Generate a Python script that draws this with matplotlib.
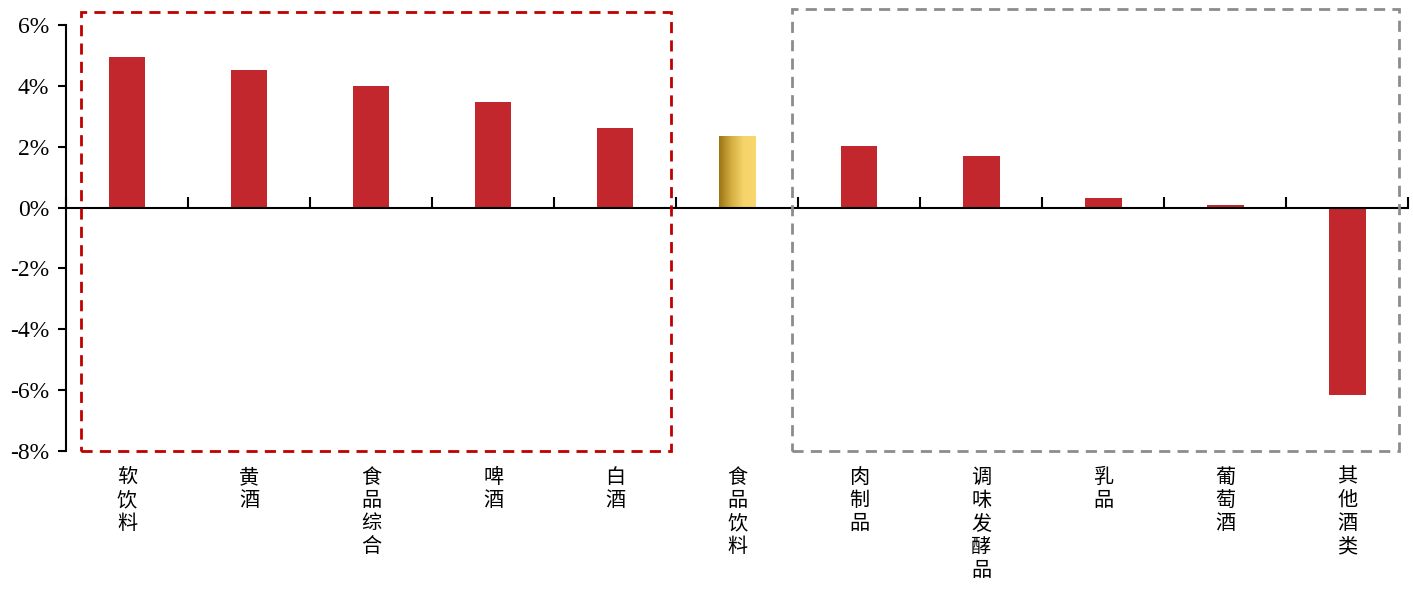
import numpy as np
import matplotlib.pyplot as plt
from matplotlib.patches import Rectangle
from matplotlib.colors import LinearSegmentedColormap
from matplotlib.ticker import FuncFormatter

plt.rcParams['font.family'] = ['Liberation Serif', 'Noto Sans CJK SC', 'DejaVu Sans']

# Categories and growth values (%)
categories = ['软饮料', '黄酒', '食品综合', '啤酒', '白酒', '食品饮料',
              '肉制品', '调味发酵品', '乳品', '葡萄酒', '其他酒类']
values = [4.95, 4.52, 3.98, 3.46, 2.60, 2.34, 2.01, 1.68, 0.33, 0.07, -6.17]
highlight = '食品饮料'

red = '#c1272d'
bar_w = 0.3

fig = plt.figure(figsize=(14.13, 5.9), dpi=100)
ax = fig.add_axes([0.0467, 0.2356, 0.95, 0.722])

x = np.arange(len(categories))
gold = LinearSegmentedColormap.from_list('gold', ['#9a7412', '#d4ae42', '#f5d46a', '#f8d86e'])
for xi, cat, v in zip(x, categories, values):
    if cat == highlight:
        # gold bar with a horizontal gradient
        grad = np.linspace(0, 1, 256).reshape(1, -1)
        ax.imshow(grad, cmap=gold, aspect='auto',
                  extent=[xi - bar_w / 2, xi + bar_w / 2, 0, v], zorder=2)
    else:
        ax.bar(xi, v, width=bar_w, color=red, zorder=2)

ax.set_xlim(-0.5, len(categories) - 0.5)
ax.set_ylim(-8, 6)
ax.set_yticks(np.arange(-8, 7, 2))
ax.yaxis.set_major_formatter(FuncFormatter(lambda v, p: f'{v:.0f}%'))
ax.tick_params(axis='y', direction='out', length=6, width=1.5, labelsize=17, pad=6)

# x axis sits at zero, ticks on category boundaries pointing up
ax.spines['bottom'].set_position(('data', 0))
ax.spines['bottom'].set_linewidth(1.5)
ax.spines['left'].set_linewidth(1.5)
ax.spines['top'].set_visible(False)
ax.spines['right'].set_visible(False)
ax.set_xticks(np.arange(-0.5, len(categories), 1.0))
ax.set_xticklabels([])
ax.tick_params(axis='x', direction='in', length=8, width=1.5)

trans = ax.get_xaxis_transform()
for xi, cat in zip(x, categories):
    ax.text(xi, -0.037, '\n'.join(cat), transform=trans, ha='center', va='top',
            fontsize=14.5, family=['Noto Sans CJK SC'], linespacing=1.14)

# dashed group boxes
ax.add_patch(Rectangle((-0.378, -8), 4.836, 14.43, fill=False, ls=(0, (4, 2.6)),
                       lw=2, ec='#c00000', clip_on=False, zorder=3))
ax.add_patch(Rectangle((5.45, -8), 4.97, 14.53, fill=False, ls=(0, (4, 2.6)),
                       lw=2, ec='#8c8c8c', clip_on=False, zorder=3))

fig.savefig('out.png', dpi=100)
